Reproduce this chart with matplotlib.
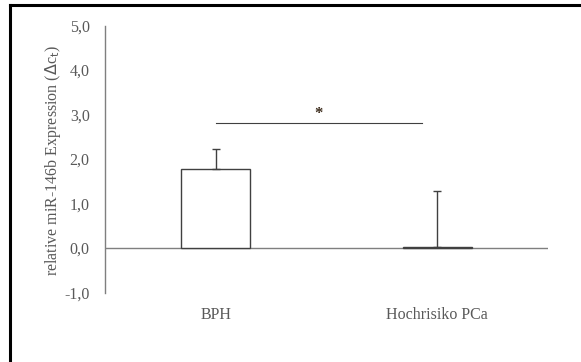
import numpy as np
import matplotlib
matplotlib.use("Agg")
from matplotlib import pyplot as plt
from matplotlib.lines import Line2D

# data
categories = ['BPH', 'Hochrisiko PCa']
values = [1.77, 0.02]
errors = [0.45, 1.27]
y_ticks = [-1.0, 0.0, 1.0, 2.0, 3.0, 4.0, 5.0]
sig_level = 2.82
sig_span = (0.0, 0.93)

TEXT_COLOR = '#595959'
LINE_COLOR = '#7f7f7f'

plt.rcParams['font.family'] = ['Liberation Serif', 'DejaVu Serif']

W, H = 581, 362
fig = plt.figure(figsize=(W / 100, H / 100), dpi=100)
ax = fig.add_axes([105 / W, 1 - 292.5 / H, 443 / W, 267 / H])

x = np.arange(len(categories))
ax.bar(x, values, width=0.31, color='white', edgecolor='#404040', linewidth=1.0, zorder=2)
ax.errorbar(x, values, yerr=[np.zeros(len(errors)), errors], fmt='none',
            ecolor='#404040', elinewidth=1.0, capsize=3, capthick=1.0, zorder=3)

ax.axhline(0, color=LINE_COLOR, linewidth=1.0, zorder=1)
ax.plot(sig_span, [sig_level, sig_level], color='#404040', linewidth=0.8)
ax.text(np.mean(sig_span), sig_level + 0.02, '*', ha='center', va='bottom',
        fontsize=12, fontweight='bold', color='#3b2a1a')

ax.set_xlim(-0.5, len(categories) - 0.5)
ax.set_ylim(y_ticks[0], y_ticks[-1])
ax.set_yticks(y_ticks)
ax.set_yticklabels([('%.1f' % v).replace('.', ',') for v in y_ticks])
ax.set_xticks(x)
ax.set_xticklabels(categories)
ax.tick_params(axis='y', length=0, pad=11, labelsize=11.5, labelcolor=TEXT_COLOR)
ax.tick_params(axis='x', length=0, pad=10.5, labelsize=11.5, labelcolor=TEXT_COLOR)
ax.xaxis.set_ticks_position('none')

for side in ['top', 'right', 'bottom']:
    ax.spines[side].set_visible(False)
ax.spines['left'].set_color(LINE_COLOR)
ax.spines['left'].set_linewidth(1.0)

ax.set_ylabel(r'relative miR-146b Expression ($\Delta$c$_{\rm t}$)', fontsize=11.5,
              color=TEXT_COLOR)
ax.yaxis.set_label_coords(-0.095, 0.494)

# outer frame (top and left only)
fig.add_artist(Line2D([10 / W, 1], [1 - 4.5 / H, 1 - 4.5 / H], color='black',
                      linewidth=2.2, transform=fig.transFigure))
fig.add_artist(Line2D([10 / W, 10 / W], [0, 1 - 4.5 / H], color='black',
                      linewidth=2.2, transform=fig.transFigure))

fig.savefig('out.png', dpi=100)
